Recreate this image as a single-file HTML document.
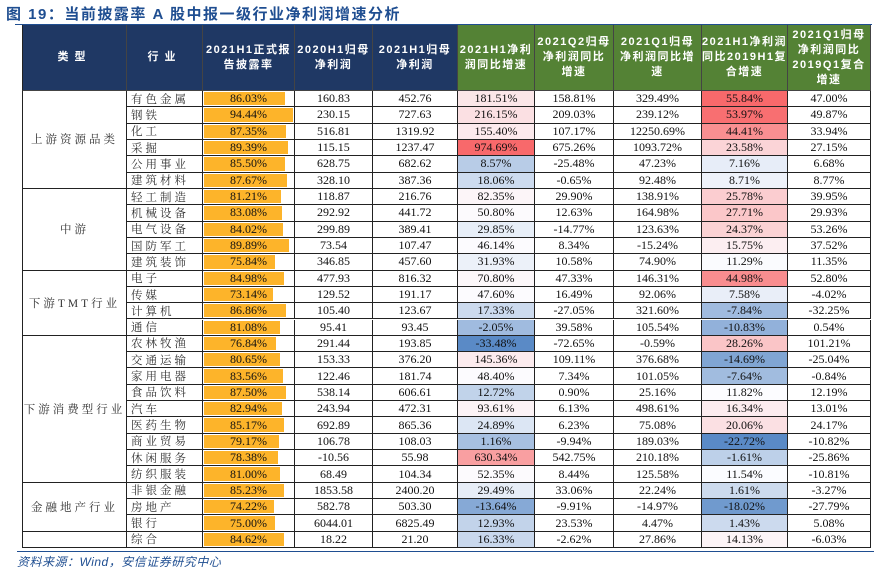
<!DOCTYPE html>
<html><head><meta charset="utf-8">
<style>
body{margin:0;width:883px;height:566px;background:#fff;position:relative;overflow:hidden;font-family:"Liberation Serif","Noto Serif CJK SC",serif;}
#title{position:absolute;left:6px;top:3px;font:bold 15px "Liberation Sans","Noto Sans CJK SC",sans-serif;color:#1f4e91;letter-spacing:1.5px;}
#tline{position:absolute;left:15px;top:24px;width:857px;height:1px;background:#1f4e91;}
#foot{position:absolute;left:17px;top:551px;width:857px;border-top:1px solid #1f4e91;font:italic 12px "Liberation Sans","Noto Sans CJK SC",sans-serif;color:#1f4e91;padding-top:1px;letter-spacing:0.5px;}
.c{position:absolute;box-sizing:border-box;border-right:1px solid #222;border-bottom:1px solid #222;display:flex;align-items:center;justify-content:center;font-size:12px;color:#111;white-space:nowrap;}
.h{color:#fff;font:bold 11px "Liberation Sans","Noto Sans CJK SC",sans-serif;text-align:center;white-space:nowrap;line-height:15px;letter-spacing:1.5px;border-color:#444;}
.ind{justify-content:flex-start;padding-left:4px;letter-spacing:3px;font-size:11.5px;color:#333;}
.cat{letter-spacing:3px;font-size:11.5px;color:#333;}
.bar{position:absolute;left:1px;top:1px;bottom:1px;background:#fdb42a;}
.t{position:relative;}
</style></head><body>
<div id="title">图 19：当前披露率 A 股中报一级行业净利润增速分析</div>
<div id="tline"></div>
<div id="tbl"></div>
<div id="foot">资料来源：Wind，安信证券研究中心</div>
<script>
const categories=[["上游资源品类",6],["中游",5],["下游TMT行业",4],["下游消费型行业",9],["金融地产行业",3],["",1]];
const industries=["有色金属","钢铁","化工","采掘","公用事业","建筑材料","轻工制造","机械设备","电气设备","国防军工","建筑装饰","电子","传媒","计算机","通信","农林牧渔","交通运输","家用电器","食品饮料","汽车","医药生物","商业贸易","休闲服务","纺织服装","非银金融","房地产","银行","综合"];
const disclosure=[86.03,94.44,87.35,89.39,85.50,87.67,81.21,83.08,84.02,89.89,75.84,84.98,73.14,86.86,81.08,76.84,80.65,83.56,87.50,82.94,85.17,79.17,78.38,81.00,85.23,74.22,75.00,84.62];
const np2020=["160.83","230.15","516.81","115.15","628.75","328.10","118.87","292.92","299.89","73.54","346.85","477.93","129.52","105.40","95.41","291.44","153.33","122.46","538.14","243.94","692.89","106.78","-10.56","68.49","1853.58","582.78","6044.01","18.22"];
const np2021=["452.76","727.63","1319.92","1237.47","682.62","387.36","216.76","441.72","389.41","107.47","457.60","816.32","191.17","123.67","93.45","193.85","376.20","181.74","606.61","472.31","865.36","108.03","55.98","104.34","2400.20","503.30","6825.49","21.20"];
const yoyH1=[181.51,216.15,155.40,974.69,8.57,18.06,82.35,50.80,29.85,46.14,31.93,70.80,47.60,17.33,-2.05,-33.48,145.36,48.40,12.72,93.61,24.89,1.16,630.34,52.35,29.49,-13.64,12.93,16.33];
const yoyQ2=[158.81,209.03,107.17,675.26,-25.48,-0.65,29.90,12.63,-14.77,8.34,10.58,47.33,16.49,-27.05,39.58,-72.65,109.11,7.34,0.90,6.13,6.23,-9.94,542.75,8.44,33.06,-9.91,23.53,-2.62];
const yoyQ1=[329.49,239.12,12250.69,1093.72,47.23,92.48,138.91,164.98,123.63,-15.24,74.90,146.31,92.06,321.60,105.54,-0.59,376.68,101.05,25.16,498.61,75.08,189.03,210.18,125.58,22.24,-14.97,4.47,27.86];
const cagrH1=[55.84,53.97,44.41,23.58,7.16,8.71,25.78,27.71,24.37,15.75,11.29,44.98,7.58,-7.84,-10.83,28.26,-14.69,-7.64,11.82,16.34,20.06,-22.72,-1.61,11.54,1.61,-18.02,1.43,14.13];
const cagrQ1=[47.00,49.87,33.94,27.15,6.68,8.77,39.95,29.93,53.26,37.52,11.35,52.80,-4.02,-32.25,0.54,101.21,-25.04,-0.84,12.19,13.01,24.17,-10.82,-25.86,-10.81,-3.27,-27.79,5.08,-6.03];
const headers=[["类型"],["行业"],["2021H1正式报","告披露率"],["2020H1归母","净利润"],["2021H1归母","净利润"],["2021H1净利","润同比增速"],["2021Q2归母","净利润同比","增速"],["2021Q1归母","净利润同比增","速"],["2021H1净利润","同比2019H1复","合增速"],["2021Q1归母","净利润同比","2019Q1复合","增速"]];
const xs=[22,127,203,295,373,458,535,614,702,788,871];
const top0=25,hdrB=91,rowH=(548-91)/28;
const tbl=document.getElementById('tbl');
function cell(x0,x1,y0,y1,cls){const d=document.createElement('div');d.className='c '+cls;d.style.left=x0+'px';d.style.top=y0+'px';d.style.width=(x1-x0)+'px';d.style.height=(y1-y0)+'px';tbl.appendChild(d);return d;}
function fmt(v){return v.toFixed(2)+'%';}
function median(a){const s=[...a].sort((p,q)=>p-q);const n=s.length;return n%2?s[(n-1)/2]:(s[n/2-1]+s[n/2])/2;}
function mix(c1,c2,t){return 'rgb('+c1.map((c,i)=>Math.round(c+(c2[i]-c)*t)).join(',')+')';}
function scale(arr){const mn=Math.min(...arr),mx=Math.max(...arr),md=median(arr);const W=[252,252,255],R=[248,105,107],B=[90,138,198];
 return v=>v>=md?mix(W,R,(v-md)/(mx-md||1)):mix(W,B,(md-v)/(md-mn||1));}
const sH1=scale(yoyH1),sC=scale(cagrH1);
headers.forEach((h,i)=>{const d=cell(xs[i],xs[i+1],top0,hdrB,'h');d.style.background=i<5?'#1f3864':'#548235';if(i===0)d.style.borderLeft='1px solid #222';
 if(i<2)d.style.letterSpacing='6px';
 d.innerHTML=h.join('<br>');
 
 });
let r0=0;categories.forEach(([n,k],ci)=>{const d=cell(xs[0],xs[1],hdrB+r0*rowH,hdrB+(r0+k)*rowH,'cat');d.style.borderLeft='1px solid #222';d.textContent=n;

r0+=k;});
const maxD=Math.max(...disclosure);
industries.forEach((nm,r)=>{const y0=hdrB+r*rowH,y1=y0+rowH;
 let d=cell(xs[1],xs[2],y0,y1,'ind');d.textContent=nm;
 
 
 d=cell(xs[2],xs[3],y0,y1,'');
 
 
 const b=document.createElement('div');b.className='bar';b.style.width=(disclosure[r]/maxD*89)+'px';d.appendChild(b);
 const t=document.createElement('span');t.className='t';t.textContent=fmt(disclosure[r]);d.appendChild(t);
 const vals=[np2020[r],np2021[r],fmt(yoyH1[r]),fmt(yoyQ2[r]),fmt(yoyQ1[r]),fmt(cagrH1[r]),fmt(cagrQ1[r])];
 vals.forEach((v,j)=>{const e=cell(xs[3+j],xs[4+j],y0,y1,'');e.textContent=v;
  if(j===2)e.style.background=sH1(yoyH1[r]);
  if(j===5)e.style.background=sC(cagrH1[r]);
  
  });
});
</script>
</body></html>
